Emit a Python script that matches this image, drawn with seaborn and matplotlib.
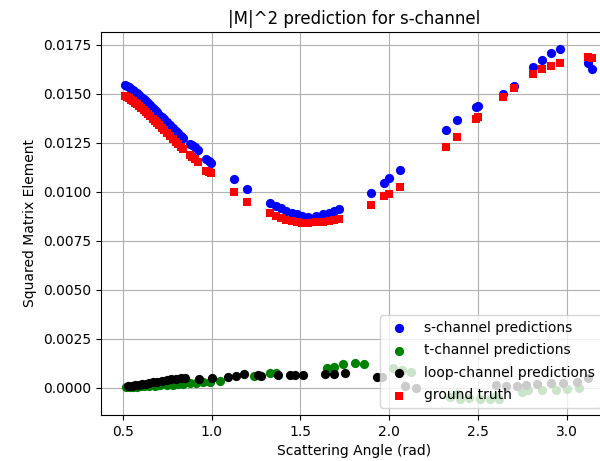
import matplotlib
matplotlib.use('Agg')
import matplotlib.pyplot as plt
import seaborn as sns

# angles shared by s-channel predictions and ground truth
s_angle = [0.511, 0.522, 0.533, 0.545, 0.556, 0.568, 0.580, 0.592, 0.605, 0.617,
           0.630, 0.643, 0.655, 0.668, 0.680, 0.693, 0.706, 0.718, 0.732, 0.746,
           0.765, 0.783, 0.797, 0.811, 0.825, 0.840, 0.877, 0.890, 0.905, 0.924,
           0.971, 0.985, 0.999, 1.127, 1.200,
           1.33, 1.36, 1.39, 1.42, 1.45, 1.48, 1.51, 1.54, 1.59, 1.63, 1.66, 1.69, 1.72,
           1.90, 1.97, 2.00, 2.06, 2.32, 2.38, 2.49, 2.50, 2.64, 2.70, 2.81, 2.86,
           2.91, 2.96, 3.12, 3.14]
s_pred = [0.01546, 0.01541, 0.01535, 0.01527, 0.01519, 0.01512, 0.01504, 0.01496, 0.01486, 0.01475,
          0.01464, 0.01453, 0.01442, 0.01430, 0.01418, 0.01407, 0.01395, 0.01384, 0.01372, 0.01359,
          0.01342, 0.01325, 0.01312, 0.01300, 0.01287, 0.01274, 0.01245, 0.01237, 0.01228, 0.01214,
          0.01168, 0.01158, 0.01150, 0.01065, 0.01017,
          0.00942, 0.00930, 0.00918, 0.00905, 0.00893, 0.00885, 0.00878, 0.00874, 0.00877, 0.00885,
          0.00893, 0.00903, 0.00912,
          0.00993, 0.01047, 0.01070, 0.01110, 0.01316, 0.01366, 0.01432, 0.01439, 0.01500, 0.01541,
          0.01636, 0.01673, 0.01711, 0.01728, 0.01657, 0.01626]
truth = [0.01490, 0.01484, 0.01478, 0.01471, 0.01464, 0.01456, 0.01448, 0.01440, 0.01428, 0.01418,
         0.01408, 0.01397, 0.01386, 0.01374, 0.01362, 0.01351, 0.01339, 0.01328, 0.01316, 0.01303,
         0.01286, 0.01268, 0.01256, 0.01244, 0.01231, 0.01218, 0.01190, 0.01179, 0.01168, 0.01152,
         0.01107, 0.01100, 0.01095, 0.00998, 0.00950,
         0.00891, 0.00878, 0.00866, 0.00858, 0.00851, 0.00846, 0.00842, 0.00842, 0.00845, 0.00847,
         0.00850, 0.00855, 0.00860,
         0.00932, 0.00980, 0.00990, 0.01025, 0.01228, 0.01279, 0.01371, 0.01381, 0.01486, 0.01529,
         0.01602, 0.01626, 0.01643, 0.01657, 0.01690, 0.01685]

t_angle = [0.52, 0.54, 0.56, 0.58, 0.60, 0.62, 0.65, 0.68, 0.71, 0.75,
           0.78, 0.81, 0.84, 0.88, 0.91, 0.95, 0.99, 1.05, 1.24, 1.33,
           1.36, 1.65, 1.69, 1.74, 1.81, 1.86, 2.02, 2.07, 2.125, 2.34,
           2.38, 2.40, 2.45, 2.51, 2.57, 2.60, 2.62, 2.75, 2.78, 2.86,
           2.94, 3.00, 3.07]
t_pred = [0.00004, 0.00005, 0.00006, 0.00007, 0.00008, 0.00009, 0.00010, 0.00011, 0.00013, 0.00015,
          0.00017, 0.00019, 0.00021, 0.00024, 0.00026, 0.00029, 0.00032, 0.00034, 0.00060, 0.00075,
          0.00078, 0.00100, 0.00108, 0.00120, 0.00129, 0.00124, 0.00100, 0.00092, 0.00083, -0.00045,
          -0.00030, -0.00055, -0.00050, -0.00055, -0.00055, -0.00040, -0.00055, -0.00020, -0.00010, -0.00010,
          -0.00010, -0.00005, 0.00000]

loop_angle = [0.53, 0.55, 0.57, 0.59, 0.61, 0.63, 0.65, 0.67, 0.69, 0.72,
              0.75, 0.77, 0.80, 0.83, 0.85, 0.93, 1.00, 1.09, 1.14, 1.18,
              1.26, 1.28, 1.375, 1.44, 1.47, 1.515, 1.64, 1.69, 1.75, 1.93,
              1.96, 2.09, 2.15, 2.60, 2.66, 2.72, 2.77, 2.83, 2.91, 2.98,
              3.055, 3.12]
loop_pred = [0.00010, 0.00012, 0.00014, 0.00016, 0.00018, 0.00022, 0.00026, 0.00029, 0.00032, 0.00036,
             0.00041, 0.00044, 0.00048, 0.00053, 0.00052, 0.00046, 0.00050, 0.00058, 0.00063, 0.00070,
             0.00066, 0.00063, 0.00068, 0.00068, 0.00068, 0.00068, 0.00070, 0.00070, 0.00075, 0.00056,
             0.00058, 0.00010, 0.00000, 0.00015, 0.00010, 0.00010, 0.00015, 0.00018, 0.00024, 0.00027,
             0.00032, 0.00050]

fig = plt.figure(figsize=(6.0, 4.61), dpi=100)
# axes run past the right edge of the figure, as in the original crop
ax = fig.add_axes([0.168, 0.0998, 0.845, 0.8308])
ax.set_axisbelow(True)
ax.grid(True)

sns.scatterplot(x=s_angle, y=s_pred, color='blue', marker='o', s=44, linewidth=0,
                label='s-channel predictions', ax=ax)
sns.scatterplot(x=t_angle, y=t_pred, color='green', marker='o', s=44, linewidth=0,
                label='t-channel predictions', ax=ax)
sns.scatterplot(x=loop_angle, y=loop_pred, color='black', marker='o', s=44, linewidth=0,
                label='loop-channel predictions', ax=ax)
sns.scatterplot(x=s_angle, y=truth, color='red', marker='s', s=38, linewidth=0,
                label='ground truth', ax=ax)

ax.set_xlim(0.376, 3.231)
ax.set_ylim(-0.00138, 0.01816)
ax.set_xlabel('Scattering Angle (rad)')
ax.set_ylabel('Squared Matrix Element')
ax.set_title('|M|^2 prediction for s-channel')
ax.legend(loc='lower right', labelspacing=0.62)

fig.savefig('out.png', dpi=100)
